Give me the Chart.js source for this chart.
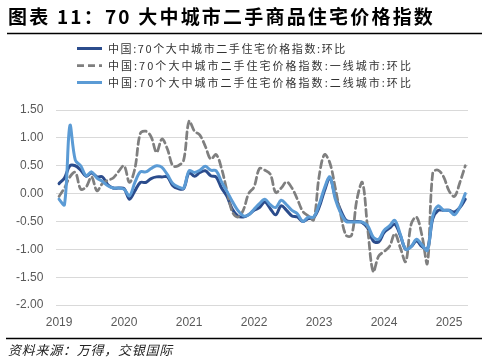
<!DOCTYPE html>
<html>
<head>
<meta charset="utf-8">
<script src="https://cdn.jsdelivr.net/npm/chart.js@4.4.1/dist/chart.umd.min.js"></script>
<style>
html,body{margin:0;padding:0;background:#fff;}
#wrap{position:relative;width:488px;height:362px;}
canvas{display:block;}
</style>
</head>
<body>
<div id="wrap"><canvas id="c" width="488" height="362"></canvas></div>
<script>
const titleText = '图表 11：70 大中城市二手商品住宅价格指数';
const sourceText = '资料来源：万得，交银国际';
const seriesNames = [
  '中国:70个大中城市二手住宅价格指数:环比',
  '中国:70个大中城市二手住宅价格指数:一线城市:环比',
  '中国:70个大中城市二手住宅价格指数:二线城市:环比'
];
const yearLabels = ['2019','2020','2021','2022','2023','2024','2025'];
const monthCount = 76; // Jan 2019 - Apr 2025
const categories = [];
for (let i = 0; i < monthCount; i++) {
  const y = 2019 + Math.floor(i / 12), m = (i % 12) + 1;
  categories.push(y + '-' + (m < 10 ? '0' + m : m));
}
const nationalMoM = [
  0.18,0.28,0.50,0.50,0.42,0.31,0.37,0.30,0.30,0.16,0.10,0.10,
  0.09,-0.10,0.05,0.20,0.20,0.27,0.30,0.30,0.30,0.14,0.09,0.09,
  0.38,0.31,0.38,0.41,0.32,0.30,0.10,-0.05,-0.28,-0.40,-0.42,-0.38,
  -0.30,-0.25,-0.15,-0.27,-0.38,-0.22,-0.30,-0.40,-0.42,-0.50,-0.45,-0.43,
  -0.25,0.05,0.28,-0.05,-0.30,-0.48,-0.50,-0.50,-0.52,-0.62,-0.85,-0.87,
  -0.70,-0.62,-0.55,-0.75,-1.00,-0.95,-0.85,-0.95,-1.00,-0.45,-0.30,-0.30,
  -0.30,-0.33,-0.25,-0.10
];
const tier1MoM = [
  -0.05,0.10,0.30,0.38,0.08,0.12,0.30,0.05,0.18,0.24,0.28,0.40,
  0.50,0.20,0.45,1.08,1.12,1.02,0.74,0.98,0.80,0.50,0.50,0.60,
  1.30,1.12,1.05,0.85,0.62,0.70,0.45,0.05,-0.33,-0.42,-0.30,0.00,
  0.12,0.45,0.42,0.35,0.02,0.10,0.21,0.10,-0.10,-0.32,-0.40,-0.47,
  0.30,0.70,0.55,0.10,-0.38,-0.75,-0.75,-0.10,0.20,-0.65,-1.40,-1.12,
  -1.04,-0.95,-0.72,-0.97,-1.22,-0.55,-0.42,-0.75,-1.25,0.38,0.42,0.30,
  0.05,-0.05,0.20,0.50
];
const tier2MoM = [
  -0.10,-0.20,1.22,0.60,0.50,0.32,0.39,0.28,0.22,0.14,0.10,0.10,
  0.08,-0.04,0.20,0.39,0.39,0.45,0.50,0.47,0.34,0.18,0.12,0.10,
  0.41,0.38,0.42,0.49,0.42,0.41,0.21,0.04,-0.14,-0.30,-0.40,-0.38,
  -0.28,-0.18,-0.10,-0.20,-0.25,-0.12,-0.20,-0.30,-0.36,-0.50,-0.42,-0.42,
  -0.20,0.10,0.30,-0.10,-0.35,-0.50,-0.51,-0.51,-0.51,-0.58,-0.78,-0.82,
  -0.66,-0.58,-0.48,-0.73,-1.00,-0.95,-0.82,-0.92,-1.02,-0.40,-0.22,-0.30,
  -0.30,-0.38,-0.24,0.00
];

const colors = ['#2B4C8C', '#7F7F7F', '#5B9BD5'];
const dashes = [[], [7, 4], []];
const widths = [3, 2.75, 3];

function spacedText(ctx, text, x, y, target, font) {
  ctx.font = font;
  const hasLS = ('letterSpacing' in ctx);
  if (hasLS) ctx.letterSpacing = '0px';
  const natural = ctx.measureText(text).width;
  const n = [...text].length;
  if (hasLS && target > natural) {
    ctx.letterSpacing = ((target - natural) / n).toFixed(2) + 'px';
  }
  ctx.fillText(text, x, y);
  if (hasLS) ctx.letterSpacing = '0px';
}

const decor = {
  id: 'decor',
  afterDraw(chart) {
    const ctx = chart.ctx;
    ctx.save();
    ctx.textAlign = 'left';
    ctx.textBaseline = 'middle';
    // title
    ctx.fillStyle = '#000';
    spacedText(ctx, titleText, 8, 16.5, 427, 'bold 19px "Noto Sans CJK SC"');
    ctx.strokeStyle = '#000';
    ctx.lineWidth = 1.5;
    ctx.beginPath(); ctx.moveTo(7, 33.5); ctx.lineTo(482, 33.5); ctx.stroke();
    // legend
    const rowY = [48.5, 65.5, 82.5];
    const targets = [239, 305, 305];
    chart.data.datasets.forEach((ds, i) => {
      ctx.save();
      ctx.strokeStyle = ds.borderColor;
      ctx.lineWidth = ds.borderWidth;
      ctx.setLineDash(ds.borderDash || []);
      ctx.beginPath(); ctx.moveTo(77, rowY[i]); ctx.lineTo(102, rowY[i]); ctx.stroke();
      ctx.restore();
      ctx.fillStyle = '#333';
      spacedText(ctx, ds.label, 108, rowY[i], targets[i], '11px "Noto Sans CJK SC"');
    });
    // source
    ctx.strokeStyle = '#000';
    ctx.lineWidth = 1.5;
    ctx.beginPath(); ctx.moveTo(6, 338.5); ctx.lineTo(482, 338.5); ctx.stroke();
    ctx.fillStyle = '#222';
    spacedText(ctx, sourceText, 8, 350, 165, 'italic 13px "Noto Sans CJK SC"');
    ctx.restore();
  }
};

const tickFont = { family: '"Liberation Sans", Arial, sans-serif', size: 12 };

new Chart(document.getElementById('c'), {
  type: 'line',
  data: {
    labels: categories,
    datasets: [
      { label: seriesNames[0], data: nationalMoM, borderColor: colors[0], borderWidth: widths[0], borderDash: dashes[0], order: 2 },
      { label: seriesNames[1], data: tier1MoM, borderColor: colors[1], borderWidth: widths[1], borderDash: dashes[1], order: 1 },
      { label: seriesNames[2], data: tier2MoM, borderColor: colors[2], borderWidth: widths[2], borderDash: dashes[2], order: 0 }
    ]
  },
  options: {
    responsive: false,
    animation: false,
    devicePixelRatio: 1,
    layout: { padding: { top: 110, right: 20, bottom: 22.5, left: 3 } },
    elements: {
      point: { radius: 0, hoverRadius: 0 },
      line: { tension: 0.35, fill: false, borderCapStyle: 'round', borderJoinStyle: 'round' }
    },
    plugins: {
      legend: { display: false },
      title: { display: false },
      tooltip: { enabled: false }
    },
    scales: {
      x: {
        type: 'category',
        offset: true,
        grid: { display: false, drawTicks: false },
        border: { display: false },
        ticks: {
          autoSkip: false, maxRotation: 0, minRotation: 0, padding: 10,
          color: '#595959', font: tickFont,
          callback: (v, i) => (i % 12 === 0 ? yearLabels[i / 12] : '')
        }
      },
      y: {
        min: -2, max: 1.5,
        grid: { color: '#d9d9d9', lineWidth: 1, drawTicks: false },
        border: { display: false },
        ticks: {
          stepSize: 0.5, padding: 13, color: '#595959', font: tickFont,
          callback: (v) => Number(v).toFixed(2)
        }
      }
    }
  },
  plugins: [decor]
});
</script>
</body>
</html>
